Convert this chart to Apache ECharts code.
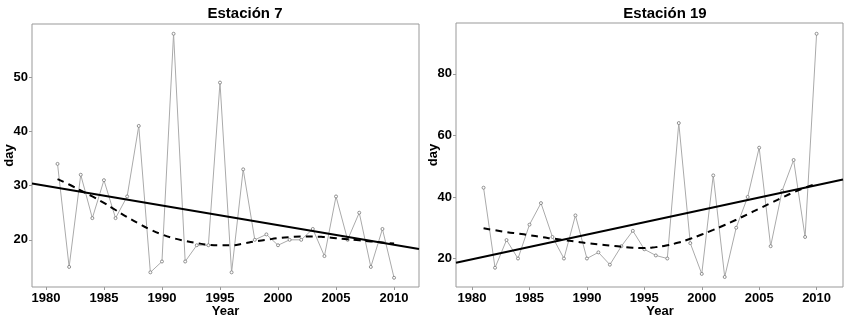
<!DOCTYPE html>
<html>
<head>
<meta charset="utf-8">
<script src="https://cdn.jsdelivr.net/npm/echarts@6/dist/echarts.min.js"></script>
<style>
  html, body { margin: 0; padding: 0; background: #fff; }
  #chart { width: 850px; height: 318px; }
</style>
</head>
<body>
<div id="chart"></div>
<script>
// years of observation
var years = [1981, 1982, 1983, 1984, 1985, 1986, 1987, 1988, 1989, 1990,
             1991, 1992, 1993, 1994, 1995, 1996, 1997, 1998, 1999, 2000,
             2001, 2002, 2003, 2004, 2005, 2006, 2007, 2008, 2009, 2010];

// Estacion 7
var days7 = [34, 15, 32, 24, 31, 24, 28, 41, 14, 16,
             58, 16, 19, 19, 49, 14, 33, 20, 21, 19,
             20, 20, 22, 17, 28, 20, 25, 15, 22, 13];
var smooth7 = [31.2, 30.2, 29.1, 28.0, 26.8, 25.5, 24.2, 23.0, 21.9, 21.0,
               20.3, 19.8, 19.4, 19.1, 19.0, 19.0, 19.3, 19.7, 20.0, 20.3,
               20.5, 20.6, 20.6, 20.5, 20.3, 20.1, 19.9, 19.7, 19.5, 19.3];
var trendX7 = [1978.8, 2012.15];
var trendY7 = [30.4, 18.3];

// Estacion 19
var days19 = [43, 17, 26, 20, 31, 38, 27, 20, 34, 20,
              22, 18, 24, 29, 23, 21, 20, 64, 25, 15,
              47, 14, 30, 40, 56, 24, 42, 52, 27, 93];
var smooth19 = [29.8, 29.2, 28.6, 28.1, 27.6, 27.0, 26.5, 26.0, 25.5, 25.0,
                24.6, 24.2, 23.8, 23.5, 23.4, 23.7, 24.3, 25.2, 26.4, 27.8,
                29.3, 30.9, 32.6, 34.4, 36.2, 38.0, 39.8, 41.5, 43.0, 44.4];
var trendX19 = [1978.6, 2012.3];
var trendY19 = [18.6, 45.7];

var xTicks = [1980, 1985, 1990, 1995, 2000, 2005, 2010];
var yTicks7 = [20, 30, 40, 50];
var yTicks19 = [20, 40, 60, 80];

function pairs(xs, ys) {
  return xs.map(function (x, i) { return [x, ys[i]]; });
}

var font = 'Liberation Sans, Arial, sans-serif';
var labelStyle = { color: '#000', fontWeight: 'bold', fontSize: 13, fontFamily: font };

function xAxisFor(idx, min, max, shift) {
  return {
    type: 'value', gridIndex: idx, min: min, max: max,
    name: 'Year', nameLocation: 'middle', nameGap: 18, nameMoveOverlap: false,
    nameTextStyle: Object.assign({ padding: [0, 0, 0, shift] }, labelStyle),
    axisLine: { show: false },
    splitLine: { show: false },
    axisTick: { show: true, length: 3, customValues: xTicks, lineStyle: { color: '#999' } },
    axisLabel: Object.assign({
      customValues: xTicks, margin: 5,
      formatter: function (v) { return String(v); }
    }, labelStyle)
  };
}

function yAxisFor(idx, min, max, ticks) {
  return {
    type: 'value', gridIndex: idx, min: min, max: max,
    name: 'day', nameLocation: 'middle', nameGap: 16, nameRotate: 90, nameMoveOverlap: false,
    nameTextStyle: labelStyle,
    axisLine: { show: false },
    splitLine: { show: false },
    axisTick: { show: true, length: 3, customValues: ticks, lineStyle: { color: '#999' } },
    axisLabel: Object.assign({ customValues: ticks, margin: 4 }, labelStyle)
  };
}

function seriesFor(idx, days, smooth, tx, ty) {
  return [
    {
      type: 'line', xAxisIndex: idx, yAxisIndex: idx,
      data: pairs(years, days),
      symbol: 'circle', symbolSize: 3,
      lineStyle: { color: '#aaa', width: 1 },
      itemStyle: { color: '#fff', borderColor: '#777', borderWidth: 0.8 },
      z: 2
    },
    {
      type: 'line', xAxisIndex: idx, yAxisIndex: idx,
      data: pairs(tx, ty), showSymbol: false,
      lineStyle: { color: '#000', width: 2 }, z: 3
    },
    {
      type: 'line', xAxisIndex: idx, yAxisIndex: idx,
      data: pairs(years, smooth), showSymbol: false, smooth: true,
      lineStyle: { color: '#000', width: 2, type: [7, 5] }, z: 4
    }
  ];
}

var chart = echarts.init(document.getElementById('chart'));
chart.setOption({
  animation: false,
  title: [
    { text: 'Estación 7', left: 240, top: 1, textAlign: 'center',
      textStyle: { fontSize: 15, fontWeight: 'bold', color: '#000', fontFamily: font } },
    { text: 'Estación 19', left: 660, top: 1, textAlign: 'center',
      textStyle: { fontSize: 15, fontWeight: 'bold', color: '#000', fontFamily: font } }
  ],
  grid: [
    { left: 32, top: 24, width: 387, height: 263, show: true, borderColor: '#999', borderWidth: 1,
      backgroundColor: 'transparent', outerBoundsMode: 'none', containLabel: false },
    { left: 456, top: 23, width: 387, height: 264, show: true, borderColor: '#999', borderWidth: 1,
      backgroundColor: 'transparent', outerBoundsMode: 'none', containLabel: false }
  ],
  xAxis: [xAxisFor(0, trendX7[0], trendX7[1], 0), xAxisFor(1, trendX19[0], trendX19[1], 21)],
  yAxis: [yAxisFor(0, 11.3, 59.8, yTicks7), yAxisFor(1, 10.75, 96.5, yTicks19)],
  series: seriesFor(0, days7, smooth7, trendX7, trendY7)
    .concat(seriesFor(1, days19, smooth19, trendX19, trendY19))
});
</script>
</body>
</html>
